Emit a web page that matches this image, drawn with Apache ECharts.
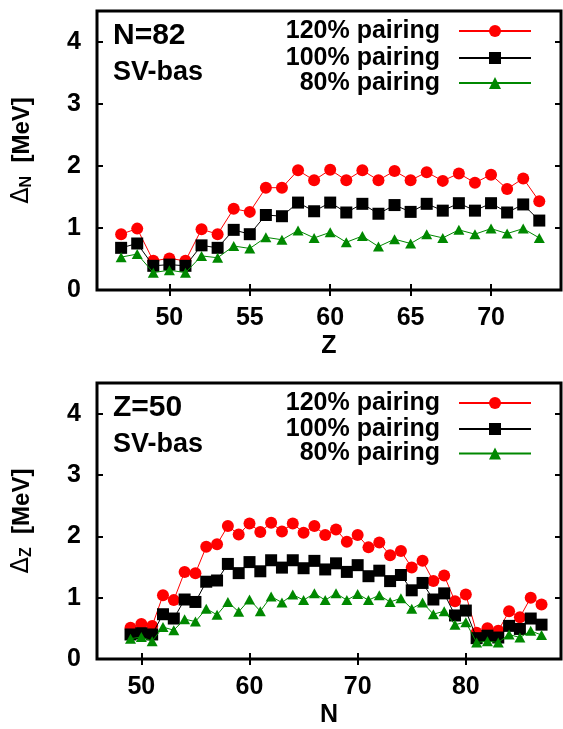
<!DOCTYPE html>
<html>
<head>
<meta charset="utf-8">
<script src="https://cdn.jsdelivr.net/npm/echarts@6/dist/echarts.min.js"></script>
<style>
html,body{margin:0;padding:0;background:#fff;}
#c{width:563px;height:729px;}
</style>
</head>
<body>
<div id="c"></div>
<script>
// ---- Top panel (N=82), x = Z ----
const zTop = [47,48,49,50,51,52,53,54,55,56,57,58,59,60,61,62,63,64,65,66,67,68,69,70,71,72,73];
const top120 = [0.90,0.99,0.47,0.51,0.47,0.98,0.90,1.31,1.26,1.65,1.65,1.93,1.77,1.94,1.77,1.93,1.77,1.92,1.77,1.90,1.76,1.88,1.73,1.86,1.63,1.80,1.43];
const top100 = [0.68,0.75,0.39,0.41,0.39,0.72,0.68,0.97,0.90,1.21,1.19,1.41,1.27,1.41,1.25,1.39,1.23,1.37,1.26,1.39,1.28,1.40,1.28,1.40,1.25,1.38,1.12];
const top80  = [0.53,0.58,0.28,0.32,0.28,0.55,0.52,0.71,0.67,0.85,0.81,0.96,0.84,0.93,0.77,0.87,0.70,0.82,0.75,0.90,0.84,0.97,0.90,0.99,0.91,0.99,0.84];

// ---- Bottom panel (Z=50), x = N ----
const nBot = [49,50,51,52,53,54,55,56,57,58,59,60,61,62,63,64,65,66,67,68,69,70,71,72,73,74,75,76,77,78,79,80,81,82,83,84,85,86,87];
const bot120 = [0.51,0.57,0.54,1.04,0.96,1.42,1.40,1.83,1.87,2.17,2.03,2.21,2.07,2.22,2.08,2.21,2.06,2.17,2.02,2.11,1.91,2.02,1.82,1.90,1.69,1.76,1.49,1.60,1.27,1.36,0.94,1.05,0.43,0.50,0.46,0.78,0.68,1.00,0.89];
const bot100 = [0.40,0.42,0.40,0.73,0.66,0.97,0.93,1.26,1.28,1.55,1.40,1.58,1.43,1.61,1.49,1.61,1.48,1.60,1.46,1.56,1.42,1.53,1.35,1.44,1.27,1.37,1.12,1.24,0.97,1.07,0.71,0.79,0.34,0.38,0.35,0.54,0.49,0.66,0.56];
const bot80  = [0.33,0.36,0.29,0.52,0.47,0.65,0.61,0.82,0.72,0.93,0.77,0.97,0.78,1.02,0.92,1.05,0.96,1.07,0.96,1.07,0.96,1.06,0.96,1.04,0.93,0.99,0.82,0.92,0.73,0.78,0.56,0.60,0.27,0.29,0.27,0.40,0.35,0.46,0.39];

// ---- Ticks / labels ----
const xTicksTop = [50,55,60,65,70];
const xTicksBot = [50,60,70,80];
const yTicks = [0,1,2,3,4];
const seriesNames = ['120% pairing','100% pairing','80% pairing'];
const panelLabels = [['N=82','SV-bas'],['Z=50','SV-bas']];

const FONT = '"Liberation Sans", Arial, Helvetica, sans-serif';
const colors = ['#ff0000','#000000','#008800'];
const symbols = ['circle','rect','triangle'];
const symSizes = [12,12,[11,10]];

function zip(xs, ys){ return xs.map((x,i)=>[x,ys[i]]); }

const grids = [
  {left:97, right:2, top:11, height:279, show:true, borderColor:'#000', borderWidth:3, backgroundColor:'transparent'},
  {left:97, right:2, top:383, height:279, show:true, borderColor:'#000', borderWidth:3, backgroundColor:'transparent'}
];

const tickStyle = {show:true, inside:true, length:6, lineStyle:{color:'#000', width:2}};
const labStyle = {fontSize:25, fontWeight:'bold', color:'#000', fontFamily:FONT};

function xAx(gi, min, max, ticks, name, pos, show){
  return {
    type:'value', gridIndex:gi, min:min, max:max, position:pos,
    axisLine:{show:false}, splitLine:{show:false},
    axisTick:Object.assign({customValues:ticks}, tickStyle),
    axisLabel: show ? Object.assign({show:true, margin:16, customValues:ticks}, labStyle) : {show:false},
    name: show ? name : '', nameLocation:'middle', nameGap:44,
    nameTextStyle:{fontSize:25, fontWeight:'bold', color:'#000', fontFamily:FONT}
  };
}
function yAx(gi, name, pos, show){
  return {
    type:'value', gridIndex:gi, min:0, max:4.5, position:pos,
    axisLine:{show:false}, splitLine:{show:false},
    axisTick:Object.assign({customValues:yTicks}, tickStyle),
    axisLabel: show ? Object.assign({show:true, margin:16, customValues:yTicks}, labStyle) : {show:false},
    name: show ? name : '', nameLocation:'middle', nameGap:62, nameRotate:90,
    nameTextStyle:{fontSize:24, fontWeight:'bold', color:'#000', fontFamily:FONT,
      rich:{s:{fontSize:16, fontWeight:'bold', fontFamily:FONT, color:'#000', padding:[10,0,0,0]},
            d:{fontSize:24, fontWeight:'normal', fontFamily:'"DejaVu Sans", sans-serif', color:'#000'}}}
  };
}

const xAxes = [
  xAx(0, 45.5, 74.35, xTicksTop, 'Z', 'bottom', true),
  xAx(0, 45.5, 74.35, xTicksTop, '', 'top', false),
  xAx(1, 45.9, 88.8, xTicksBot, 'N', 'bottom', true),
  xAx(1, 45.9, 88.8, xTicksBot, '', 'top', false)
];
const yAxes = [
  yAx(0, '{d|Δ}{s|N}  [MeV]', 'left', true),
  yAx(0, '', 'right', false),
  yAx(1, '{d|Δ}{s|Z}  [MeV]', 'left', true),
  yAx(1, '', 'right', false)
];

const topData = [top120, top100, top80];
const botData = [bot120, bot100, bot80];
const series = [];
[[zTop, topData, 0, 0], [nBot, botData, 2, 2]].forEach(([xs, ds, xi, yi]) => {
  ds.forEach((d, k) => {
    series.push({
      type:'line', name:seriesNames[k], xAxisIndex:xi, yAxisIndex:yi,
      data: zip(xs, d), symbol:symbols[k], symbolSize:symSizes[k], showAllSymbol:true,
      lineStyle:{color:colors[k], width:1}, itemStyle:{color:colors[k]},
      animation:false, silent:true, z:2+k
    });
  });
});

const legendTops = [[18.5, 45.5, 70.5],[390.5, 416.5, 441]];
const legends = [];
legendTops.forEach(tops => {
  tops.forEach((t, k) => {
    legends.push({
      data:[seriesNames[k]], right:31, top:t, align:'right', orient:'vertical',
      itemWidth:72, itemHeight:15, padding:0, selectedMode:false,
      textStyle:{fontSize:25, fontWeight:'bold', color:'#000', fontFamily:FONT, padding:[0,14,0,0]}
    });
  });
});

const titles = [
  {text:panelLabels[0][0], left:113, top:21, padding:0, textStyle:{fontSize:30, fontWeight:'bold', color:'#000', fontFamily:FONT}},
  {text:panelLabels[0][1], left:113, top:59, padding:0, textStyle:{fontSize:27, fontWeight:'bold', color:'#000', fontFamily:FONT}},
  {text:panelLabels[1][0], left:113, top:393, padding:0, textStyle:{fontSize:30, fontWeight:'bold', color:'#000', fontFamily:FONT}},
  {text:panelLabels[1][1], left:113, top:431, padding:0, textStyle:{fontSize:27, fontWeight:'bold', color:'#000', fontFamily:FONT}}
];

const chart = echarts.init(document.getElementById('c'), null, {renderer:'canvas'});
chart.setOption({
  animation:false,
  backgroundColor:'#fff',
  title:titles,
  legend:legends,
  grid:grids,
  xAxis:xAxes,
  yAxis:yAxes,
  series:series
});
</script>
</body>
</html>
